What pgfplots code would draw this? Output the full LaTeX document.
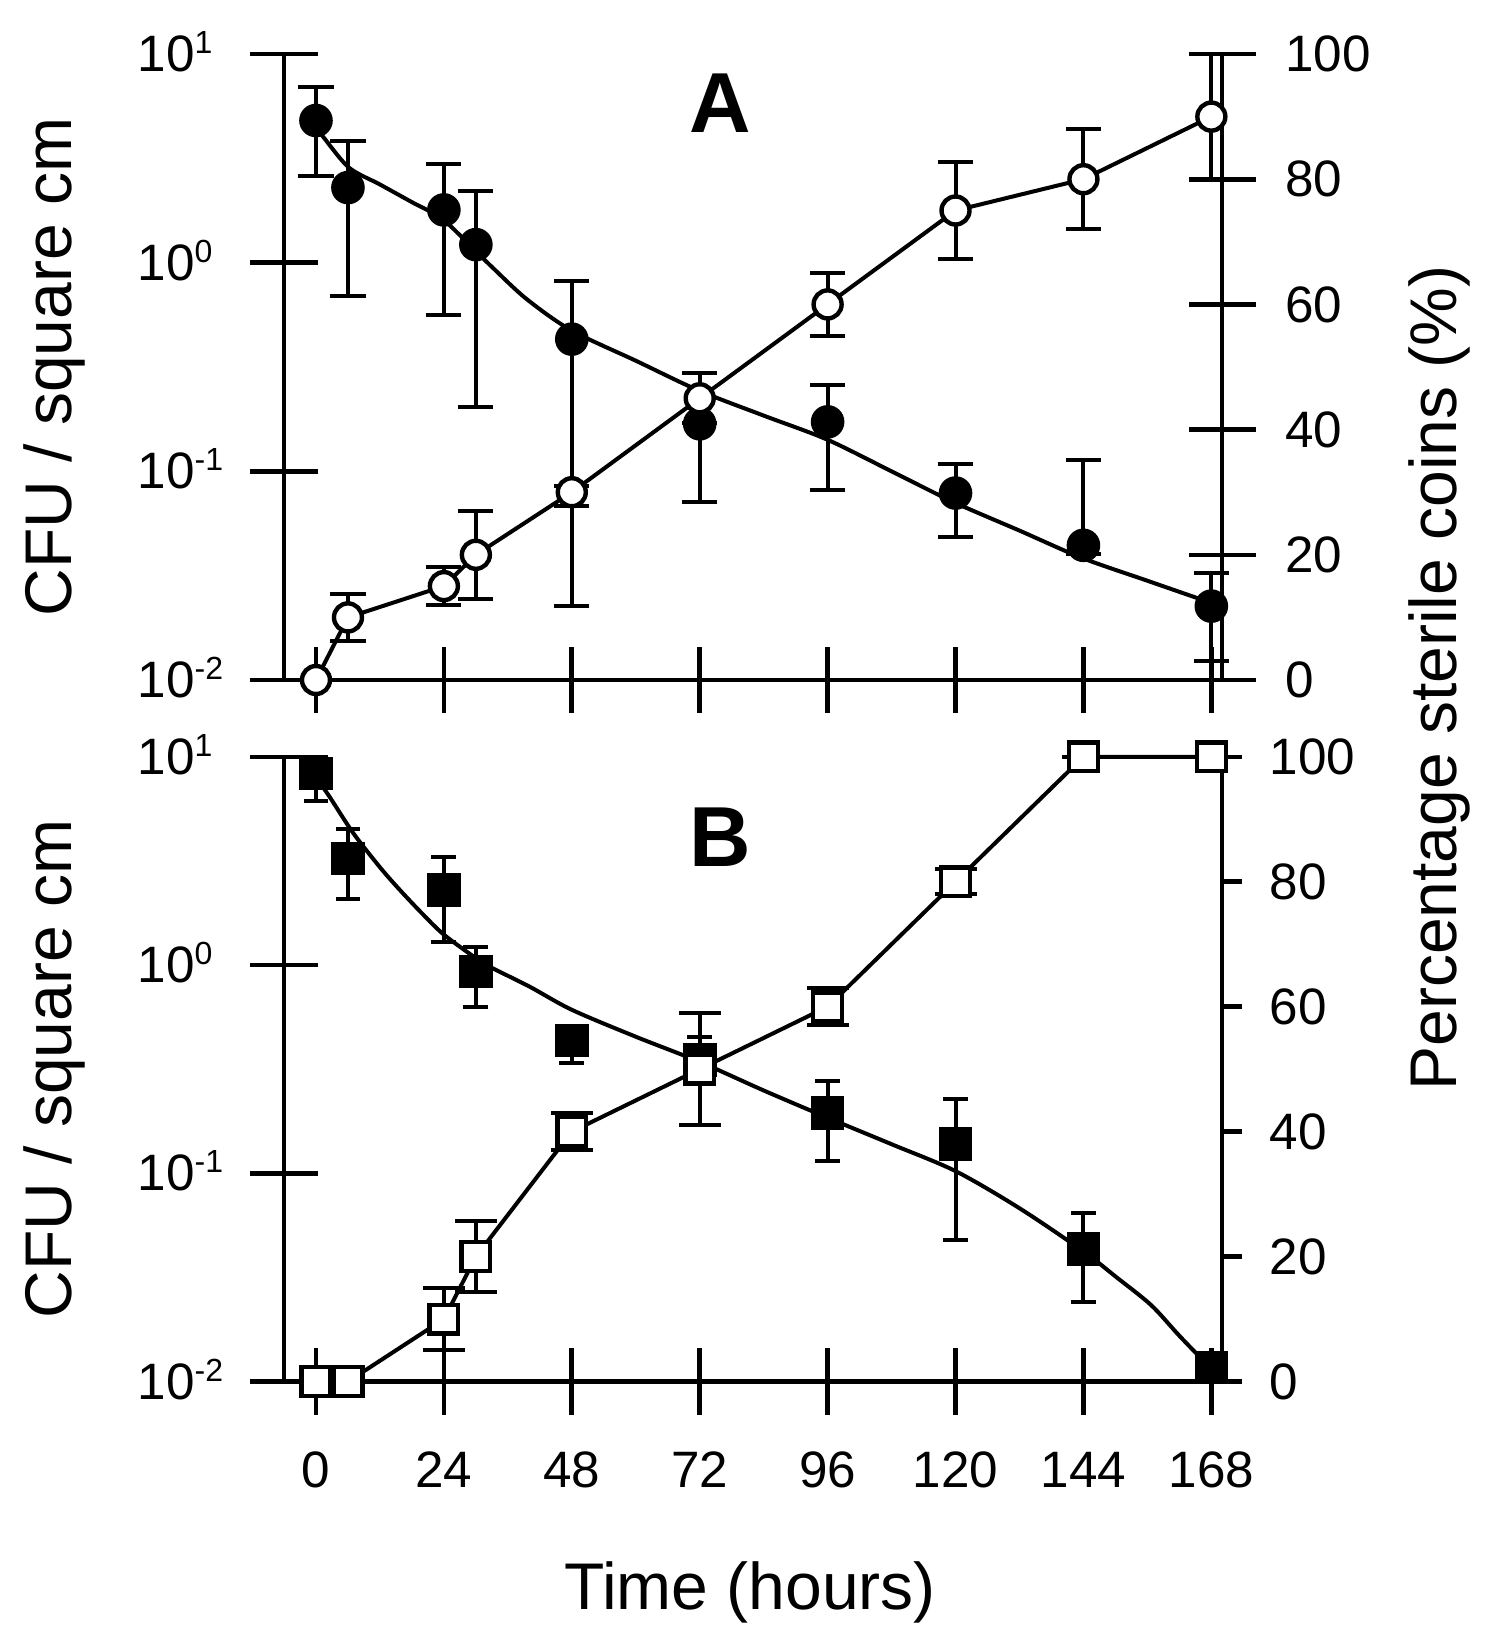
\documentclass[border=0pt]{standalone}
\usepackage{fontspec}
\setmainfont{Liberation Sans}
\usepackage{pgfplots}
\pgfplotsset{compat=1.18}
\usepackage{pgfplotstable}

\newcommand\tickfont{\fontsize{12.8pt}{14pt}\selectfont}
\newcommand\labfont{\fontsize{16.5pt}{18pt}\selectfont}
\newcommand\panfont{\fontsize{21.3pt}{24pt}\selectfont\bfseries}
\newcommand\tp[1]{\makebox[28pt][l]{10\smash{\raisebox{4.5pt}{\fontsize{8pt}{9pt}\selectfont #1}}}}

\pgfplotstableread{
x y ep em
0 4.8 2.15 2.2
6 2.29 1.56 1.6
24 1.79 1.17 1.226
30 1.22 0.98 1.016
48 0.43 0.385 0.4073
72 0.169 0.128 0.0977
96 0.1726 0.0874 0.0909
120 0.0787 0.0303 0.0302
144 0.0442 0.0688 0.004
168 0.0226 0.0098 0.0102
}\Afilled

\pgfplotstableread{
x y ep em
0 0 0 0
6 10 3.7 3.7
24 15 3 3
30 20 7 7
48 30 1 2.2
72 45 4 4
96 60 5 5
120 75 7.7 7.7
144 80 8 8
168 90 10 10
}\Aopen

\pgfplotstableread{
x y
0 4.4
1.25 4.04
6.15 2.86
12 2.37
18 1.95
23.7 1.62
29.7 1.155
33.2 0.944
39.5 0.67
47.9 0.474
60 0.339
71.8 0.244
84 0.185
95.9 0.142
108 0.1
119.7 0.0711
132 0.052
143.7 0.0385
156 0.0299
167.8 0.0235
}\Acurve

\pgfplotstableread{
x y ep em
0 8.3 1.7 2.15
6 3.25 1.25 1.18
24 2.3 1.01 1.01
30 0.93 0.29 0.303
48 0.434 0.03 0.094
72 0.35 0.10 0.02
96 0.195 0.084 0.08
120 0.1385 0.0885 0.0907
144 0.0434 0.0212 0.0194
168 0.0117 0 0
}\Bfilled

\pgfplotstableread{
x y e
0 0 0
6 0 0
24 10 5
30 20 5.7
48 40 3
72 50 9
96 60 3
120 80 2
144 100 0
168 100 0
}\Bopen

\pgfplotstableread{
x y
0 8.0
2.6 6.4
7 4.3
12 2.95
15.7 2.3
20 1.76
24 1.4
30 1.08
33 0.97
40 0.79
48 0.61
60 0.453
72 0.343
84 0.25
96 0.185
108 0.138
120 0.1025
132 0.068
144 0.0422
150 0.032
156.7 0.0233
162 0.0166
168 0.0115
}\Bcurve

\pgfplotsset{
  common/.style={
    scale only axis, width=234.5pt, anchor=south west,
    xmin=-6, xmax=170, xtick={0,24,...,168},
    clip=false, tick align=center, major tick length=16.75pt,
    axis line style={line width=1.15pt, black},
    tick style={line width=1.15pt, black},
    xminorticks=false, yminorticks=false,
    tick label style={font=\tickfont},
    /pgf/number format/assume math mode=true,
  },
  curve/.style={black, line width=1pt, smooth, no marks},
}

\begin{document}
\begin{tikzpicture}
\useasboundingbox (0,0) rectangle (372.25pt,410.5pt);

% ---------- Panel A : CFU (log) ----------
\begin{axis}[common, at={(71pt,240.5pt)}, height=156.5pt,
  ymode=log, ymin=0.01, ymax=10,
  axis x line*=bottom, axis y line*=left,
  ytick={0.01,0.1,1,10}, yticklabels={\tp{-2},\tp{-1},\tp{0},\tp{1}},
  yticklabel style={anchor=east, inner sep=0pt},
  xticklabels={}]
\addplot[curve] table[x=x,y=y] {\Acurve};
\addplot[black, only marks, mark=*, mark size=3.7pt,
  mark options={line width=1pt, fill=black},
  error bars/.cd, y dir=both, y explicit,
  error bar style={line width=1pt},
  error mark options={rotate=90, mark size=4.4pt, line width=1pt}]
  table[x=x, y=y, y error plus=ep, y error minus=em] {\Afilled};
\node[rotate=90, anchor=base, font=\labfont] at (axis description cs:-0.2265,0.5) {CFU / square cm};
\node[font=\panfont, anchor=base] at (rel axis cs:0.4648,0.8744) {A};
\end{axis}

% ---------- Panel A : percentage ----------
\begin{axis}[common, at={(71pt,240.5pt)}, height=156.5pt,
  ymin=0, ymax=100, ytick={0,20,...,100},
  axis y line*=right, axis x line=none,
  yticklabel style={anchor=west, inner sep=0pt, xshift=7.25pt}]
\addplot[black, line width=1pt, mark=*, mark size=3.5pt,
  mark options={solid, line width=1.1pt, fill=white},
  error bars/.cd, y dir=both, y explicit,
  error bar style={line width=1pt},
  error mark options={rotate=90, mark size=4.4pt, line width=1pt}]
  table[x=x, y=y, y error plus=ep, y error minus=em] {\Aopen};
\node[rotate=90, anchor=base, font=\labfont] at (axis description cs:1.2505,0.0032) {Percentage sterile coins (\%)};
\end{axis}

% ---------- Panel B : CFU (log) ----------
\begin{axis}[common, at={(71pt,65.1pt)}, height=156.2pt,
  ymode=log, ymin=0.01, ymax=10,
  axis x line*=bottom, axis y line*=left,
  ytick={0.01,0.1,1,10}, yticklabels={\tp{-2},\tp{-1},\tp{0},\tp{1}},
  yticklabel style={anchor=east, inner sep=0pt},
  xticklabel style={anchor=north, inner sep=0pt, yshift=-9pt}]
\addplot[curve] table[x=x,y=y] {\Bcurve};
\addplot[black, only marks, mark=square*, mark size=3.7pt,
  mark options={line width=1pt, fill=black},
  error bars/.cd, y dir=both, y explicit,
  error bar style={line width=1pt},
  error mark options={rotate=90, mark size=3.1pt, line width=1pt}]
  table[x=x, y=y, y error plus=ep, y error minus=em] {\Bfilled};
\node[rotate=90, anchor=base, font=\labfont] at (axis description cs:-0.2265,0.5) {CFU / square cm};
\node[font=\panfont, anchor=base] at (rel axis cs:0.4648,0.825) {B};
\node[font=\labfont, anchor=base] at (axis description cs:0.4968,-0.3654) {Time (hours)};
\end{axis}

% ---------- Panel B : percentage ----------
\begin{axis}[common, at={(71pt,65.1pt)}, height=156.2pt,
  ymin=0, ymax=100, ytick={0,20,...,100},
  axis y line*=right, axis x line=none,
  tick align=outside, major tick length=5pt,
  yticklabel style={anchor=west, inner sep=0pt, xshift=6.75pt}]
\addplot[black, line width=1pt, mark=square*, mark size=3.6pt,
  mark options={solid, line width=1.1pt, fill=white},
  error bars/.cd, y dir=both, y explicit,
  error bar style={line width=1pt},
  error mark options={rotate=90, mark size=5.25pt, line width=1pt}]
  table[x=x, y=y, y error=e] {\Bopen};
\end{axis}
\end{tikzpicture}
\end{document}
